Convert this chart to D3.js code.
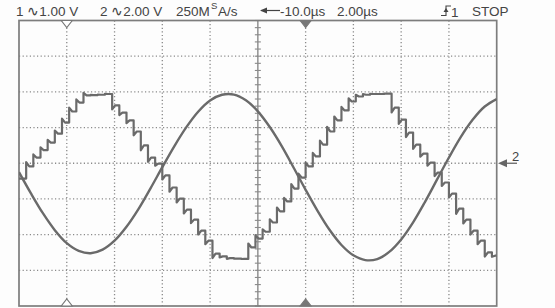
<!DOCTYPE html>
<html><head><meta charset="utf-8">
<script src="https://cdn.jsdelivr.net/npm/d3@7"></script>
<style>
html,body{margin:0;padding:0;background:#fff;}
svg{display:block;font-family:"Liberation Sans",Arial,sans-serif;}
</style>
</head><body>
<svg id="c" width="555" height="308"></svg>
<script>
// ---- data ----
// Channel 2 (smooth sine), volts, sampled every 0.5 µs from 0 to 20 µs
const ch2Volts = [-0.50,-1.69,-2.80,-3.75,-4.48,-4.91,-5.04,-4.84,-4.34,-3.56,
  -2.57,-1.42,-0.22,0.95,2.01,2.89,3.52,3.84,3.85,3.53,
  2.91,2.03,0.96,-0.25,-1.49,-2.67,-3.73,-4.58,-5.16,-5.43,
  -5.37,-4.97,-4.27,-3.31,-2.16,-0.92,0.32,1.48,2.45,3.18,3.60];
const ch2SampleUs = 0.5;
// Channel 1 (stepped DAC output), volts, one level per 0.3 µs step
const ch1Volts = [-0.43,-0.09,0.16,0.37,0.58,0.83,1.14,1.45,1.70,1.90,
  1.91,1.92,1.94,1.62,1.42,1.20,0.89,0.50,0.16,-0.01,
  -0.34,-0.68,-0.99,-1.30,-1.58,-1.89,-2.17,-2.53,-2.61,-2.66,
  -2.67,-2.68,-2.36,-2.11,-1.92,-1.66,-1.35,-1.07,-0.71,-0.40,
  -0.09,0.19,0.52,0.89,1.20,1.48,1.73,1.87,1.92,1.94,
  1.94,1.95,1.56,1.22,0.86,0.52,0.27,0.02,-0.26,-0.54,
  -0.85,-1.27,-1.58,-1.89,-2.17,-2.50,-2.59];
const ch1StepUs = 0.3;
const ch1VoltsPerDiv = 1;
const ch2VoltsPerDiv = 2;
const timeSpanUs = 20;          // 10 div x 2.00 µs
const hDivs = 10, vDivs = 8;
const headerLabels = ["1 \u223F1.00 V", "2 \u223F2.00 V", "250M", "S", "A/s", "-10.0\u00B5s", "2.00\u00B5s", "1", "STOP"];
const channel2Label = "2";

// ---- layout ----
const svg = d3.select("#c");
const L = 19, R = 496.7, T = 20.5, B = 306;
const x = d3.scaleLinear().domain([0, timeSpanUs]).range([L, R]);
const yDiv = d3.scaleLinear().domain([-vDivs/2, vDivs/2]).range([B, T]);
const gridCol = "#8a8a8a", traceCol = "#6a6a6a", textCol = "#444";

svg.append("rect").attr("width",555).attr("height",308).attr("fill","#fdfdfd");

const g = svg.append("g");
// dotted graticule
const vLines = d3.range(1, hDivs).filter(i => i !== hDivs/2).map(i => i*timeSpanUs/hDivs);
g.selectAll("line.v").data(vLines).join("line")
  .attr("x1", d=>x(d)).attr("x2", d=>x(d)).attr("y1", T).attr("y2", B)
  .attr("stroke", gridCol).attr("stroke-width",1.3).attr("stroke-dasharray","1.2,2.4");
const hLines = d3.range(-vDivs/2+1, vDivs/2);
g.selectAll("line.h").data(hLines).join("line")
  .attr("y1", d=>yDiv(d)).attr("y2", d=>yDiv(d)).attr("x1", L).attr("x2", R)
  .attr("stroke", gridCol).attr("stroke-width",1.3).attr("stroke-dasharray","1.2,2.4");
// center vertical axis with minor ticks
const cx = x(timeSpanUs/2);
g.append("line").attr("x1",cx).attr("x2",cx).attr("y1",T).attr("y2",B)
  .attr("stroke",gridCol).attr("stroke-width",1.4);
g.selectAll("line.tk").data(d3.range(-vDivs/2, vDivs/2+0.001, 0.2)).join("line")
  .attr("x1",cx-3).attr("x2",cx+3).attr("y1",d=>yDiv(d)).attr("y2",d=>yDiv(d))
  .attr("stroke",gridCol).attr("stroke-width",1.1);
// frame
g.append("rect").attr("x",L).attr("y",T).attr("width",R-L).attr("height",B-T)
  .attr("fill","none").attr("stroke","#7d7d7d").attr("stroke-width",1.7);

// markers on top/bottom edges
function tri(px, down, filled, base){
  const h = 7, w = 5.5;
  const tip = down ? base + h : base - h;
  svg.append("path").attr("d", `M${px-w},${base}L${px+w},${base}L${px},${tip}Z`)
    .attr("fill", filled ? "#777" : "#fff").attr("stroke","#777").attr("stroke-width",1.1);
}
tri(x(2), true, false, T); tri(x(12), true, true, T);
tri(x(2), false, false, B); tri(x(12), false, true, B);

// clip
svg.append("clipPath").attr("id","clp").append("rect")
  .attr("x",L).attr("y",T-2).attr("width",R-L).attr("height",B-T+4);
const tg = svg.append("g").attr("clip-path","url(#clp)");

// channel 2 smooth
const ch2Pts = ch2Volts.map((v,i)=>[x(i*ch2SampleUs), yDiv(v/ch2VoltsPerDiv)]);
tg.append("path").attr("d", d3.line().curve(d3.curveCatmullRom)(ch2Pts))
  .attr("fill","none").attr("stroke",traceCol).attr("stroke-width",2.4);

// channel 1 stepped with glitch overshoot at each transition
const ch1Pts = [];
ch1Volts.forEach((v,k)=>{
  const t0 = k*ch1StepUs, t1 = Math.min((k+1)*ch1StepUs, timeSpanUs);
  const lv = v/ch1VoltsPerDiv;
  if (k === 0) { ch1Pts.push([x(t0), yDiv(lv)]); }
  else {
    const prev = ch1Volts[k-1]/ch1VoltsPerDiv;
    ch1Pts.push([x(t0), yDiv(prev)]);
    ch1Pts.push([x(t0), yDiv(lv + 0.35*(lv-prev))]);
    ch1Pts.push([x(t0+0.13), yDiv(lv)]);
  }
  ch1Pts.push([x(k === ch1Volts.length-1 ? timeSpanUs : t1), yDiv(lv)]);
});
tg.append("path").attr("d", d3.line()(ch1Pts))
  .attr("fill","none").attr("stroke",traceCol).attr("stroke-width",2.2)
  .attr("stroke-linejoin","round");

// header text
const fs = 13.5;
const txt = (s, px, py, size, anchor) => svg.append("text").text(s)
  .attr("x",px).attr("y",py).attr("font-size",size||fs).attr("fill",textCol)
  .attr("text-anchor",anchor||"start");
txt(headerLabels[0], 16, 15.5);
txt(headerLabels[1], 100, 15.5);
txt(headerLabels[2], 176, 15.5);
txt(headerLabels[3], 211, 9, 9.5);
txt(headerLabels[4], 218, 15.5);
// delay arrow
svg.append("path").attr("d","M261,10.5L280,10.5").attr("stroke",textCol).attr("stroke-width",1.2);
svg.append("path").attr("d","M260,10.5L267,7.5L267,13.5Z").attr("fill",textCol);
txt(headerLabels[5], 280, 15.5);
txt(headerLabels[6], 337, 15.5);
// trigger edge symbol
svg.append("path").attr("d","M441,15.5H446V6H451").attr("fill","none").attr("stroke",textCol).attr("stroke-width",1.1);
svg.append("path").attr("d","M446,8L443.5,12H448.5Z").attr("fill",textCol);
txt(headerLabels[7], 451, 17);
txt(headerLabels[8], 472, 15.5);

// channel 2 ground marker on right
const gy = yDiv(0);
svg.append("path").attr("d",`M505,${gy}L517,${gy}`).attr("stroke","#666").attr("stroke-width",1.3);
svg.append("path").attr("d",`M498,${gy}L507,${gy-4}L507,${gy+4}Z`).attr("fill","#666");
txt(channel2Label, 512, gy-2.5, 13);
</script>
</body></html>
